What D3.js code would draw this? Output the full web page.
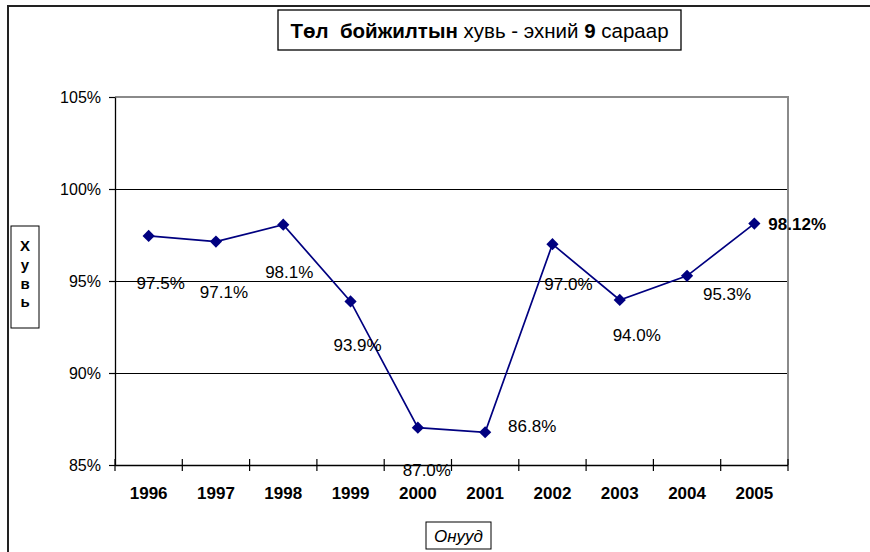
<!DOCTYPE html>
<html><head><meta charset="utf-8">
<script src="https://cdn.jsdelivr.net/npm/d3@7/dist/d3.min.js"></script>
<style>
body{margin:0;background:#fff;}
svg{display:block;font-family:"Liberation Sans",Arial,sans-serif;}
</style></head>
<body>
<svg id="c" width="870" height="552"></svg>
<script>
const years = ["1996","1997","1998","1999","2000","2001","2002","2003","2004","2005"];
const values = [0.9745, 0.9714, 0.9806, 0.9389, 0.8703, 0.8678, 0.9700, 0.9397, 0.9528, 0.9812];
const dataLabels = ["97.5%","97.1%","98.1%","93.9%","87.0%","86.8%","97.0%","94.0%","95.3%","98.12%"];
const yTicks = [0.85, 0.90, 0.95, 1.00, 1.05];
const titleParts = [["Төл  бойжилтын", true], [" хувь - эхний ", false], ["9", true], [" сараар", false]];
const yTitle = ["Х","у","в","ь"];
const xTitle = "Онууд";

// label placement offsets (layout, not data)
const labelOffsets = [[12,47],[8,50],[6,47],[7,44],[9,42],[47,-6],[16,40],[17,35],[40,18],[14,0]];

const svg = d3.select("#c");
const L = 115, R = 788, T = 97, B = 465;

// outer frame
svg.append("path").attr("d", `M8,560 L8,6 L872,6`).attr("fill","none").attr("stroke","#222").attr("stroke-width",2);

const x = d3.scaleBand().domain(years).range([L, R]).padding(0);
const y = d3.scaleLinear().domain([0.85, 1.05]).range([B, T]);

// gridlines
svg.append("g").selectAll("line").data(yTicks.filter(d => d > 0.85 && d < 1.05)).join("line")
  .attr("x1", L).attr("x2", R).attr("y1", d => Math.round(y(d)) + 0.5).attr("y2", d => Math.round(y(d)) + 0.5)
  .attr("stroke", "#000").attr("stroke-width", 1).attr("shape-rendering","crispEdges");

// plot border top/right (gray)
svg.append("path").attr("d", `M${L},${T} L${R},${T} L${R},${B}`).attr("fill","none").attr("stroke","#8a8a8a").attr("stroke-width",2);

// y axis
const yAxis = d3.axisLeft(y).tickValues(yTicks).tickFormat(d3.format(".0%")).tickSize(6).tickSizeOuter(0);
const gy = svg.append("g").attr("transform", `translate(${L},0)`).call(yAxis);
gy.select(".domain").attr("stroke","#000").attr("stroke-width",1.3);
gy.selectAll(".tick line").attr("stroke","#000").attr("stroke-width",1.2);
gy.selectAll(".tick text").attr("font-size",16).attr("fill","#000").attr("x",-14)
  .attr("font-family","'Liberation Sans',Arial,sans-serif");

// x axis
const gx = svg.append("g").attr("transform", `translate(0,${B})`);
const boundaries = years.map(d => x(d)).concat([R]);
gx.selectAll("line.tk").data(boundaries).join("line").attr("class","tk")
  .attr("x1", d => d).attr("x2", d => d).attr("y1", -6).attr("y2", 6)
  .attr("stroke","#000").attr("stroke-width",1.2);
gx.selectAll("text").data(years).join("text")
  .attr("x", d => x(d) + x.bandwidth()/2).attr("y", 34)
  .attr("text-anchor","middle").attr("font-size",17).attr("font-weight","bold").attr("fill","#000")
  .text(d => d);

// line
const cx = (d,i) => x(years[i]) + x.bandwidth()/2;
const line = d3.line().x((d,i) => cx(d,i)).y(d => y(d));
svg.append("path").datum(values).attr("d", line).attr("fill","none").attr("stroke","#000080").attr("stroke-width",1.7);

// markers
svg.append("g").selectAll("path").data(values).join("path")
  .attr("d", d3.symbol().type(d3.symbolDiamond2).size(95))
  .attr("transform", (d,i) => `translate(${cx(d,i)},${y(d)})`)
  .attr("fill","#000080");

// data labels
svg.append("g").selectAll("text").data(values).join("text")
  .attr("x", (d,i) => cx(d,i) + labelOffsets[i][0])
  .attr("y", (d,i) => y(d) + labelOffsets[i][1])
  .attr("dy","0.35em")
  .attr("text-anchor", (d,i) => i === values.length-1 ? "start" : "middle")
  .attr("font-size",17)
  .attr("font-weight", (d,i) => i === values.length-1 ? "bold" : "normal")
  .attr("fill","#000")
  .text((d,i) => dataLabels[i]);

// x axis line drawn over the 87.0% label as in original
svg.append("line").attr("x1",L).attr("x2",R).attr("y1",B+0.5).attr("y2",B+0.5).attr("stroke","#000").attr("stroke-width",1.3);

// title
const tg = svg.append("g");
tg.append("rect").attr("x",278).attr("y",10).attr("width",403).attr("height",40)
  .attr("fill","#fff").attr("stroke","#000").attr("stroke-width",1.3);
const tt = tg.append("text").attr("x",479.5).attr("y",38).attr("text-anchor","middle").attr("font-size",20.5).attr("fill","#000")
  .attr("xml:space","preserve");
titleParts.forEach(p => tt.append("tspan").attr("font-weight", p[1] ? "bold" : "normal").attr("style","white-space:pre").text(p[0]));

// y title
svg.append("rect").attr("x",11).attr("y",226).attr("width",28).attr("height",102).attr("fill","#fff").attr("stroke","#000").attr("stroke-width",1);
const yb = [251, 270, 289, 307];
svg.append("g").selectAll("text").data(yTitle).join("text")
  .attr("x",25).attr("y",(d,i)=>yb[i]).attr("text-anchor","middle").attr("font-size",15).attr("font-weight","bold").attr("fill","#000").text(d=>d);

// x title
svg.append("rect").attr("x",426).attr("y",522).attr("width",65).attr("height",27).attr("fill","#fff").attr("stroke","#000").attr("stroke-width",1);
svg.append("text").attr("x",458.5).attr("y",542).attr("text-anchor","middle").attr("font-size",17).attr("font-style","italic").attr("fill","#000").text(xTitle);
</script>
</body></html>
